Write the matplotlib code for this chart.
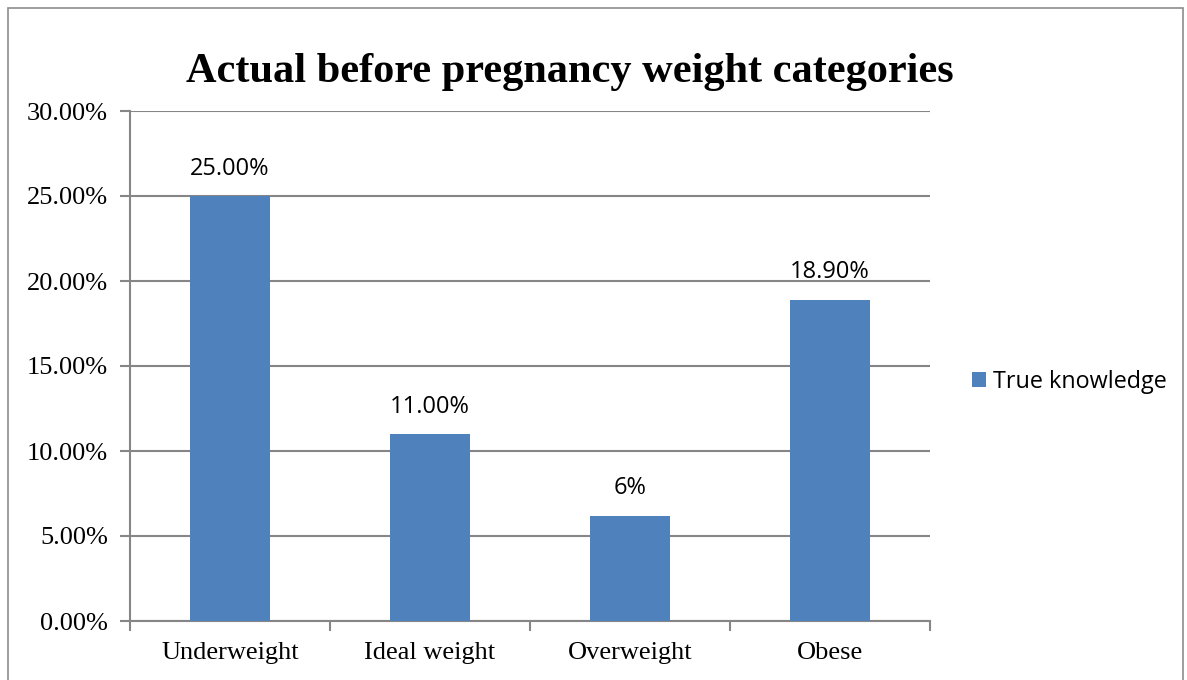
import matplotlib.pyplot as plt
from matplotlib.patches import Rectangle
from matplotlib.ticker import FixedLocator, PercentFormatter

categories = ['Underweight', 'Ideal weight', 'Overweight', 'Obese']
values = [25.0, 11.0, 6.2, 18.9]
value_labels = ['25.00%', '11.00%', '6%', '18.90%']
yticks = [0, 5, 10, 15, 20, 25, 30]

bar_color = '#4F81BD'
grid_color = '#868686'
serif = 'Liberation Serif'
sans = 'Open Sans'

fig = plt.figure(figsize=(11.87, 6.80), dpi=100)
# outer chart border
fig.patches.append(Rectangle((8 / 1187, -0.05), 1175 / 1187, 1.05 - 8 / 680,
                             transform=fig.transFigure, fill=False,
                             edgecolor='#8c8c8c', linewidth=1.2))

ax = fig.add_axes([130 / 1187, 59 / 680, 800 / 1187, 510 / 680])
x = range(len(categories))
ax.bar(x, values, width=0.4, color=bar_color, zorder=3, label='True knowledge')

ax.set_xlim(-0.5, 3.5)
ax.set_ylim(0, 30)
ax.set_yticks(yticks)
ax.yaxis.set_major_formatter(PercentFormatter(decimals=2))
ax.yaxis.grid(True, color=grid_color, linewidth=1.5, zorder=0)
ax.set_xticks(list(x))
ax.set_xticklabels(categories, fontfamily=serif, fontsize=19)
ax.xaxis.set_minor_locator(FixedLocator([-0.5, 0.5, 1.5, 2.5, 3.5]))
ax.tick_params(axis='x', which='major', length=0, pad=15)
ax.tick_params(axis='x', which='minor', length=7, width=1.5, color=grid_color)
ax.tick_params(axis='y', length=7, width=1.5, color=grid_color, pad=9)
for lab in ax.get_yticklabels():
    lab.set_fontfamily(serif)
    lab.set_fontsize(19)

for side in ['top', 'right']:
    ax.spines[side].set_visible(False)
for side in ['left', 'bottom']:
    ax.spines[side].set_color(grid_color)
    ax.spines[side].set_linewidth(1.5)

for xi, v, lab in zip(x, values, value_labels):
    ax.annotate(lab, (xi, v), xytext=(0, 11), textcoords='offset points',
                ha='center', va='bottom', fontfamily=sans, fontsize=17)

fig.text(570 / 1187, 1 - 82 / 680, 'Actual before pregnancy weight categories',
         ha='center', va='baseline', fontfamily=serif, fontweight='bold', fontsize=30.5)

fig.legend(loc='center left', bbox_to_anchor=(951 / 1187, 1 - 382 / 680),
           frameon=False, prop={'family': sans, 'size': 16.8},
           handlelength=0.6, handleheight=0.6, handletextpad=0.3)

plt.savefig('out.png', dpi=100)
